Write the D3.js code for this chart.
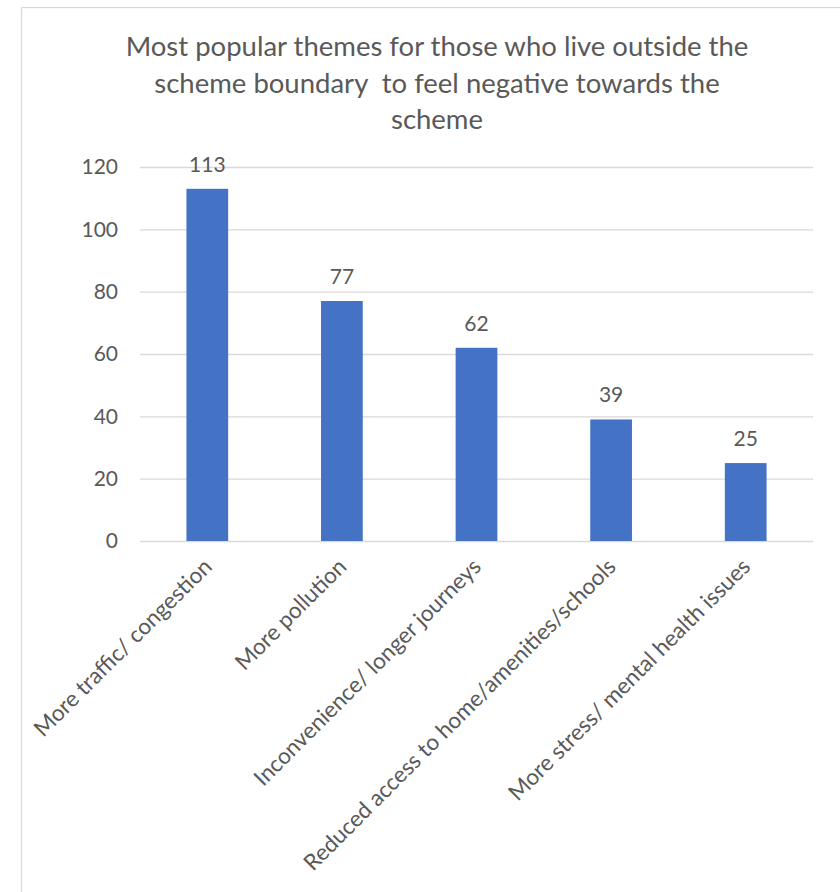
<!DOCTYPE html>
<html>
<head>
<meta charset="utf-8">
<script src="https://cdn.jsdelivr.net/npm/d3@7"></script>
<style>
  html, body { margin: 0; padding: 0; background: #fff; }
  svg { display: block; }
  text { font-family: Lato, "Noto Sans", sans-serif; fill: #595959; }
</style>
</head>
<body>
<svg id="chart" width="840" height="892"></svg>
<script>
const categories = [
  "More traffic/ congestion",
  "More pollution",
  "Inconvenience/ longer journeys",
  "Reduced access to home/amenities/schools",
  "More stress/ mental health issues"
];
const values = [113, 77, 62, 39, 25];
const yTicks = [0, 20, 40, 60, 80, 100, 120];
const titleLines = [
  "Most popular themes for those who live outside the",
  "scheme boundary  to feel negative towards the",
  "scheme"
];

const svg = d3.select("#chart");
const W = 840, H = 892;
const plot = { left: 140, right: 813, top: 167, bottom: 541 };

// chart area border
svg.append("rect")
  .attr("x", 21.5).attr("y", 7.5)
  .attr("width", W).attr("height", H)
  .attr("fill", "#fff")
  .attr("stroke", "#d9d9d9").attr("stroke-width", 1.3);

// title
const title = svg.append("text")
  .attr("text-anchor", "middle")
  .style("font-size", "27.5px")
  .style("white-space", "pre");
titleLines.forEach((t, i) => {
  title.append("tspan").attr("x", 437).attr("y", 56 + i * 36.5).text(t);
});

const x = d3.scaleBand().domain(categories).range([plot.left, plot.right]).paddingInner(0.69).paddingOuter(0.345);
const y = d3.scaleLinear().domain([0, 120]).range([plot.bottom, plot.top]);

// gridlines via axis
const yAxis = d3.axisLeft(y).tickValues(yTicks).tickSize(-(plot.right - plot.left)).tickPadding(22);
const gy = svg.append("g").attr("transform", `translate(${plot.left},0)`).call(yAxis);
gy.select(".domain").remove();
gy.selectAll(".tick line").attr("stroke", "#d9d9d9").attr("stroke-width", 1.3);
gy.selectAll(".tick text").attr("fill", "#595959").style("font-size", "21px").style("font-family", "Lato, sans-serif");

// bars
svg.append("g").selectAll("rect").data(values).join("rect")
  .attr("x", (d, i) => x(categories[i]))
  .attr("y", d => y(d))
  .attr("width", x.bandwidth())
  .attr("height", d => y(0) - y(d))
  .attr("fill", "#4472c4");

// value labels
svg.append("g").selectAll("text").data(values).join("text")
  .attr("x", (d, i) => x(categories[i]) + x.bandwidth() / 2)
  .attr("y", d => y(d) - 17)
  .attr("text-anchor", "middle")
  .style("font-size", "21px")
  .text(d => d);

// x axis labels
const xAxis = d3.axisBottom(x).tickSize(0).tickPadding(0);
const gx = svg.append("g").attr("transform", `translate(0,${plot.bottom})`).call(xAxis);
gx.select(".domain").remove();
gx.selectAll(".tick text")
  .attr("fill", "#595959")
  .style("font-size", "22.5px")
  .style("font-family", "Lato, sans-serif")
  .attr("text-anchor", "end")
  .attr("dy", null)
  .attr("y", 0)
  .attr("transform", "translate(6,27) rotate(-45)");
</script>
</body>
</html>
